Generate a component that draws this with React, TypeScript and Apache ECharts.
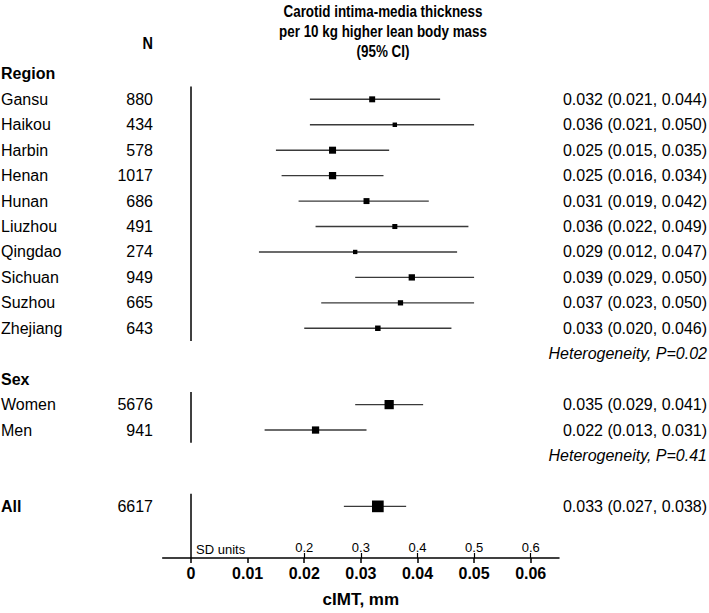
import React, { useEffect, useRef } from 'react';
import * as echarts from 'echarts';

const FONT = '"Liberation Sans", Arial, Helvetica, sans-serif';

// ---- data ----
const regionNames = ['Gansu', 'Haikou', 'Harbin', 'Henan', 'Hunan', 'Liuzhou', 'Qingdao', 'Sichuan', 'Suzhou', 'Zhejiang'];
const regionN = [880, 434, 578, 1017, 686, 491, 274, 949, 665, 643];
const regionEst = [0.032, 0.036, 0.025, 0.025, 0.031, 0.036, 0.029, 0.039, 0.037, 0.033];
const regionLo = [0.021, 0.021, 0.015, 0.016, 0.019, 0.022, 0.012, 0.029, 0.023, 0.020];
const regionHi = [0.044, 0.050, 0.035, 0.034, 0.042, 0.049, 0.047, 0.050, 0.050, 0.046];
const regionWeight = [51, 38, 60, 62, 51, 43, 37, 54, 45, 47];

const sexNames = ['Women', 'Men'];
const sexN = [5676, 941];
const sexEst = [0.035, 0.022];
const sexLo = [0.029, 0.013];
const sexHi = [0.041, 0.031];
const sexWeight = [79, 62];

const allN = [6617];
const allEst = [0.033];
const allLo = [0.027];
const allHi = [0.038];
const allWeight = [100];

const heterogeneityP = ['0.02', '0.41'];

const xTicks = [0, 0.01, 0.02, 0.03, 0.04, 0.05, 0.06];
const sdTicks = [0.2, 0.3, 0.4, 0.5, 0.6];

const titleLines = ['Carotid intima-media thickness', 'per 10 kg higher lean body mass', '(95% CI)'];

// ---- layout ----
const Y_MIN = -2;
const Y_MAX = 18.03;

type Row = {
  y: number;
  kind: 'header' | 'item' | 'het';
  label?: string;
  bold?: boolean;
  n?: number;
  est?: number;
  lo?: number;
  hi?: number;
  w?: number;
  text?: string;
};

const rows: Row[] = [];
rows.push({ y: -1, kind: 'header', label: 'Region' });
regionNames.forEach((name, i) =>
  rows.push({ y: i, kind: 'item', label: name, n: regionN[i], est: regionEst[i], lo: regionLo[i], hi: regionHi[i], w: regionWeight[i] })
);
rows.push({ y: 10, kind: 'het', text: `Heterogeneity, P=${heterogeneityP[0]}` });
rows.push({ y: 11, kind: 'header', label: 'Sex' });
sexNames.forEach((name, i) =>
  rows.push({ y: 12 + i, kind: 'item', label: name, n: sexN[i], est: sexEst[i], lo: sexLo[i], hi: sexHi[i], w: sexWeight[i] })
);
rows.push({ y: 14, kind: 'het', text: `Heterogeneity, P=${heterogeneityP[1]}` });
rows.push({ y: 16, kind: 'item', bold: true, label: 'All', n: allN[0], est: allEst[0], lo: allLo[0], hi: allHi[0], w: allWeight[0] });

const itemRows = rows.filter((r) => r.kind === 'item');
const segments = [
  [-0.5, regionNames.length - 0.5],
  [11.5, 11.5 + sexNames.length],
  [15.5, Y_MAX],
];

const fmt = (v: number) => v.toFixed(3);

export default function App() {
  const ref = useRef<HTMLDivElement>(null);
  useEffect(() => {
    if (!ref.current) return;
    const chart = echarts.init(ref.current, null, { renderer: 'svg' });
    const narrowBold = { fill: '#000', fontSize: 17, fontWeight: 'bold', fontFamily: FONT, verticalAlign: 'middle' };
    const option: any = {
      animation: false,
      backgroundColor: '#fff',
      grid: { left: 162.7, right: 150, top: 48.44, bottom: 50.3, containLabel: false },
      xAxis: [
        {
          type: 'value',
          min: -0.005,
          max: 0.065,
          position: 'bottom',
          splitLine: { show: false },
          axisLine: { show: true, onZero: false, lineStyle: { color: '#000', width: 1.5 } },
          axisTick: { show: true, inside: false, length: 5, customValues: xTicks, lineStyle: { color: '#000', width: 1.5 } },
          axisLabel: {
            show: true,
            customValues: xTicks,
            margin: 7,
            color: '#000',
            fontSize: 16,
            fontWeight: 'bold',
            fontFamily: FONT,
            formatter: (v: number) => (v === 0 ? '0' : String(+v.toFixed(2))),
          },
          name: 'cIMT, mm',
          nameLocation: 'middle',
          nameGap: 33,
          nameTextStyle: { color: '#000', fontSize: 17, fontWeight: 'bold', fontFamily: FONT },
        },
        {
          type: 'value',
          min: -0.05,
          max: 0.65,
          position: 'bottom',
          splitLine: { show: false },
          axisLine: { show: true, onZero: false, lineStyle: { color: 'rgba(0,0,0,0)', width: 0 } },
          axisTick: { show: true, inside: true, length: 5, customValues: sdTicks, lineStyle: { color: '#000', width: 1.2 } },
          axisLabel: {
            show: true,
            inside: true,
            customValues: sdTicks,
            margin: 4,
            color: '#000',
            fontSize: 13,
            fontFamily: FONT,
            formatter: (v: number) => v.toFixed(1),
          },
        },
      ],
      yAxis: { type: 'value', min: Y_MIN, max: Y_MAX, inverse: true, show: false, splitLine: { show: false } },
      graphic: [
        ...titleLines.map((t, i) => ({
          type: 'text',
          x: 383,
          y: 11 + i * 20,
          scaleX: 0.79,
          style: { ...narrowBold, text: t, align: 'center' },
        })),
        {
          type: 'text',
          x: 153,
          y: 43,
          scaleX: 0.85,
          style: { ...narrowBold, text: 'N', align: 'right' },
        },
        {
          type: 'text',
          x: 196,
          y: 549,
          style: { text: 'SD units', align: 'left', verticalAlign: 'middle', fill: '#000', fontSize: 13, fontFamily: FONT },
        },
      ],
      series: [
        {
          type: 'custom',
          name: 'zero',
          silent: true,
          clip: false,
          data: segments.map((s) => [0, s[0], s[1]]),
          encode: { x: 0, y: [1, 2] },
          renderItem: (params: any, api: any) => {
            const a = api.coord([0, api.value(1)]);
            const b = api.coord([0, api.value(2)]);
            return {
              type: 'line',
              shape: { x1: a[0], y1: a[1], x2: b[0], y2: b[1] },
              style: { stroke: '#000', lineWidth: 1.5 },
            };
          },
        },
        {
          type: 'custom',
          name: 'forest',
          silent: true,
          clip: false,
          data: itemRows.map((r) => [r.est, r.y, r.lo, r.hi, r.w]),
          encode: { x: [0, 2, 3], y: 1 },
          renderItem: (params: any, api: any) => {
            const y = api.value(1);
            const c = api.coord([api.value(0), y]);
            const l = api.coord([api.value(2), y]);
            const h = api.coord([api.value(3), y]);
            const side = (api.value(4) / 100) * 11.7;
            return {
              type: 'group',
              children: [
                { type: 'line', shape: { x1: l[0], y1: l[1], x2: h[0], y2: h[1] }, style: { stroke: '#3a3a3a', lineWidth: 1.4 } },
                { type: 'rect', shape: { x: c[0] - side / 2, y: c[1] - side / 2, width: side, height: side }, style: { fill: '#000' } },
              ],
            };
          },
        },
        {
          type: 'custom',
          name: 'texts',
          silent: true,
          clip: false,
          data: rows.map((r, i) => [0, r.y, i]),
          encode: { x: 0, y: 1 },
          renderItem: (params: any, api: any) => {
            const r = rows[api.value(2)];
            const yPix = api.coord([0, r.y])[1];
            const base = { fill: '#000', fontSize: 16, fontFamily: FONT, verticalAlign: 'middle' };
            const children: any[] = [];
            if (r.label) {
              children.push({
                type: 'text',
                x: 1,
                y: yPix,
                style: { ...base, text: r.label, align: 'left', fontWeight: r.kind === 'header' || r.bold ? 'bold' : 'normal' },
              });
            }
            if (r.n !== undefined) {
              children.push({ type: 'text', x: 153, y: yPix, style: { ...base, text: String(r.n), align: 'right' } });
            }
            if (r.est !== undefined) {
              children.push({
                type: 'text',
                x: 707,
                y: yPix,
                style: { ...base, text: `${fmt(r.est)} (${fmt(r.lo!)}, ${fmt(r.hi!)})`, align: 'right' },
              });
            }
            if (r.kind === 'het' && r.text) {
              children.push({ type: 'text', x: 707, y: yPix, style: { ...base, text: r.text, align: 'right', fontStyle: 'italic' } });
            }
            return { type: 'group', children };
          },
        },
      ],
    };
    chart.setOption(option);
    return () => chart.dispose();
  }, []);
  return (
    <div
      ref={ref}
      style={{ position: 'fixed', left: 0, top: 0, width: 709, height: 613, background: '#fff' }}
    />
  );
}
